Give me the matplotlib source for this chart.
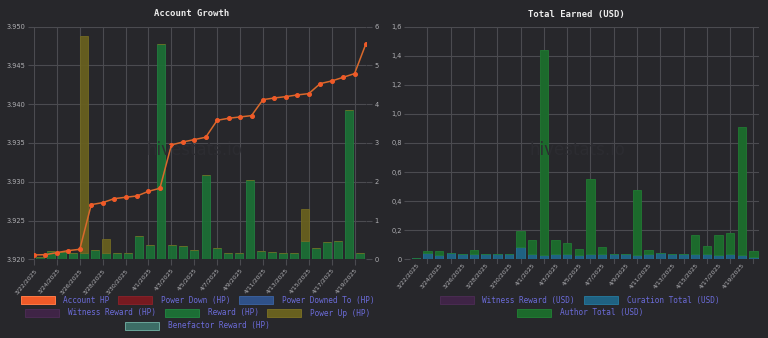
import numpy as np
import pandas as pd
import matplotlib
matplotlib.use('Agg')
import matplotlib.pyplot as plt
from matplotlib.patches import Rectangle
from matplotlib.ticker import FuncFormatter

# days shown on both charts
days = pd.date_range('2025-03-22', '2025-04-20')
day_labels = [f'{d.month}/{d.day}/{d.year}' for d in days]

# Account Growth
account_hp = [3.92056, 3.92060, 3.92086, 3.92112, 3.92129, 3.92705, 3.92731, 3.92782,
              3.92800, 3.92817, 3.92877, 3.92916, 3.93475, 3.93513, 3.93544, 3.93574,
              3.93793, 3.93819, 3.93836, 3.93853, 3.94059, 3.94081, 3.94098, 3.94120,
              3.94137, 3.94266, 3.94300, 3.94347, 3.94395, 3.94782]
reward_hp = [0.05, 0.21, 0.19, 0.17, 0.155, 0.23, 0.16, 0.16, 0.16, 0.60, 0.37, 5.55,
             0.37, 0.335, 0.24, 2.18, 0.28, 0.155, 0.16, 2.05, 0.22, 0.19, 0.17, 0.155,
             0.46, 0.29, 0.45, 0.48, 3.85, 0.16]
power_up_hp = [0, 0, 0, 0, 5.61, 0, 0.36, 0, 0, 0, 0, 0, 0, 0, 0, 0,
               0, 0, 0, 0, 0, 0, 0, 0, 0.83, 0, 0, 0, 0, 0]

# Total Earned (USD)
curation_usd = [0.011, 0.041, 0.032, 0.041, 0.037, 0.039, 0.037, 0.037, 0.037, 0.087,
                0.039, 0.030, 0.039, 0.037, 0.032, 0.039, 0.037, 0.037, 0.037, 0.030,
                0.035, 0.041, 0.037, 0.035, 0.037, 0.037, 0.030, 0.039, 0.028, 0.014]
author_usd = [0.0, 0.016, 0.028, 0.0, 0.0, 0.028, 0.0, 0.0, 0.0, 0.108,
              0.092, 1.41, 0.092, 0.078, 0.042, 0.513, 0.050, 0.0, 0.0, 0.448,
              0.029, 0.0, 0.0, 0.0, 0.131, 0.055, 0.136, 0.140, 0.882, 0.043]

W, H = 768, 338
BG = '#27272b'
GRID = '#4b4b50'
TICK = '#b0b0b4'
LEG = '#6b6bd8'
MONO = 'DejaVu Sans Mono'

fig = plt.figure(figsize=(W / 100, H / 100), dpi=100, facecolor=BG)


def fx(px):
    return px / W


def fy(py):
    return 1 - py / H


def style(ax):
    ax.set_facecolor('none')
    for s in ax.spines.values():
        s.set_visible(False)
    ax.tick_params(length=4, width=0.8, color=GRID, labelcolor=TICK, labelsize=4.8, pad=2)


n = len(days)
x = np.arange(n)

# watermarks under everything
fig.text(fx(194), fy(150), 'hivestats.io', ha='center', va='center', fontsize=12,
         color='#2c2c31', zorder=0)
fig.text(fx(577), fy(150), 'hivestats.io', ha='center', va='center', fontsize=12,
         color='#2c2c31', zorder=0)

# ---------- left chart ----------
axb = fig.add_axes([fx(34), fy(259.3), fx(366 - 34), (259.3 - 26.7) / H])
style(axb)
slot = (n - 1) / n
bx = (x + 0.5) * slot
bw = 0.72 * slot
axb.bar(bx, reward_hp, bw, color='#1c6e35', edgecolor='#228040', linewidth=0.6, alpha=0.95)
axb.bar(bx, power_up_hp, bw, bottom=reward_hp, color='#68601f', edgecolor='#756c22',
        linewidth=0.6, alpha=0.95)
axb.set_xlim(0, n - 1)
axb.set_ylim(0, 6)
axb.set_yticks(range(7))
axb.set_xticks(x[::2])
axb.set_xticklabels(day_labels[::2], rotation=50, ha='right', rotation_mode='anchor', fontsize=4.4)
axb.grid(True, color=GRID, linewidth=0.8)
axb.set_axisbelow(True)

axl = axb.twinx()
style(axl)
axl.plot(x, account_hp, color='#d9692c', linewidth=1.1, marker='o', markersize=2.6,
         markerfacecolor='#f05a28', markeredgecolor='#f05a28', zorder=5)
axl.set_ylim(3.920, 3.950)
axl.set_yticks(np.linspace(3.920, 3.950, 7))
axl.yaxis.set_major_formatter(FuncFormatter(lambda v, p: f'{v:.3f}'))
axl.set_xlim(0, n - 1)
# twinx moves the first axis to the left, so swap sides afterwards
axl.yaxis.tick_left()
axb.yaxis.tick_right()
axb.tick_params(axis='y', length=4, width=0.8, color=GRID, labelcolor=TICK, labelsize=4.8)
axl.tick_params(axis='y', length=4, width=0.8, color=GRID, labelcolor=TICK, labelsize=4.8)

# ---------- right chart ----------
axr = fig.add_axes([fx(410), fy(259.3), fx(759.3 - 410), (259.3 - 26.7) / H])
style(axr)
axr.bar(x, curation_usd, 0.72, color='#1f6282', edgecolor='#257496', linewidth=0.6)
axr.bar(x, author_usd, 0.72, bottom=curation_usd, color='#1c6a2c', edgecolor='#217a33',
        linewidth=0.6)
axr.set_xlim(-0.5, n - 0.5)
axr.set_ylim(0, 1.6)
axr.set_yticks(np.arange(0, 1.61, 0.2))
axr.yaxis.set_major_formatter(
    FuncFormatter(lambda v, p: '0' if abs(v) < 1e-9 else f'{v:.1f}'.replace('.', ',')))
axr.set_xticks(x[::2])
axr.set_xticklabels(day_labels[::2], rotation=50, ha='right', rotation_mode='anchor', fontsize=4.4)
axr.tick_params(axis='x', length=0)
for gx in x[1::2]:
    axr.axvline(gx, color=GRID, linewidth=0.8, zorder=0)
    axr.plot([gx, gx], [0, -0.028], color=GRID, linewidth=0.8, clip_on=False)
axr.grid(True, axis='y', color=GRID, linewidth=0.8)
axr.set_axisbelow(True)

# titles
fig.text(fx(192), fy(14), 'Account Growth', ha='center', va='center', family=MONO,
         fontweight='bold', fontsize=6.4, color='#ececec')
fig.text(fx(576), fy(14), 'Total Earned (USD)', ha='center', va='center', family=MONO,
         fontweight='bold', fontsize=6.4, color='#ececec')

# legends (drawn by hand to keep chart.js-style centred rows)
left_legend = [
    ('Account HP', 20.7, 300.3, '#f05a28', '#ff7a45'),
    ('Power Down (HP)', 118.3, 300.3, '#771a20', '#84222a'),
    ('Power Downed To (HP)', 239.3, 300.3, '#2f5189', '#3a5f9a'),
    ('Witness Reward (HP)', 25.3, 313.0, '#3f2446', '#4a2c52'),
    ('Reward (HP)', 165.3, 313.0, '#1c6e35', '#22803f'),
    ('Power Up (HP)', 267.3, 313.0, '#68601f', '#766c24'),
    ('Benefactor Reward (HP)', 125.3, 325.7, '#3c6d66', '#6aa59a'),
]
right_legend = [
    ('Witness Reward (USD)', 440.0, 300.3, '#3f2446', '#4a2c52'),
    ('Curation Total (USD)', 584.3, 300.3, '#1f6282', '#257496'),
    ('Author Total (USD)', 517.0, 313.0, '#1c6a2c', '#217a33'),
]
for label, px, py, fc, ec in left_legend + right_legend:
    fig.add_artist(Rectangle((fx(px), fy(py + 4)), 34 / W, 8 / H, transform=fig.transFigure,
                             facecolor=fc, edgecolor=ec, linewidth=0.7))
    fig.text(fx(px + 42.5), fy(py), label, ha='left', va='center', family=MONO,
             fontsize=5.6, color=LEG)

fig.savefig('out.png', dpi=100, facecolor=BG)
